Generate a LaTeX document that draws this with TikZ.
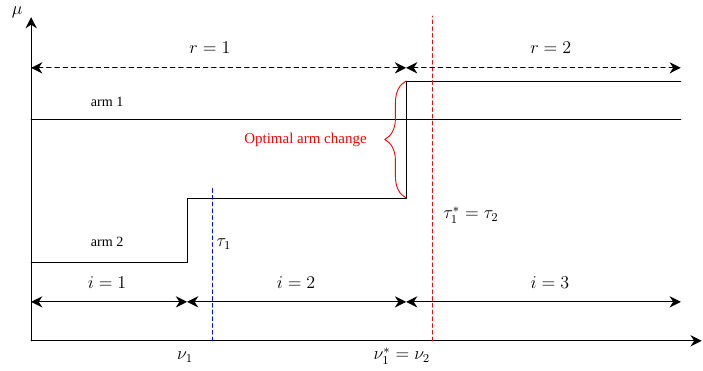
\documentclass[tikz,border=0pt]{standalone}
\usepackage{fontspec}
\setmainfont{Liberation Serif}
\usetikzlibrary{arrows.meta,decorations.pathreplacing}

\begin{document}
\begin{tikzpicture}[line cap=round,line join=round,
  axis/.style={line width=0.7pt,-{Stealth[length=7.5pt,width=7.5pt]}},
  arm/.style={line width=0.55pt},
  span/.style={line width=0.6pt,{Stealth[length=7.5pt,width=7.5pt]}-{Stealth[length=7.5pt,width=7.5pt]}},
  change/.style={line width=0.65pt,dash pattern=on 2.5pt off 2pt},
  lbl/.style={font=\large},
  armlbl/.style={font=\fontsize{9.4}{11}\selectfont}]
  \useasboundingbox (-0.73,-0.70) rectangle (15.75,7.99);
  \coordinate (O) at (0,0);
  \coordinate (Y) at (0,7.59);
  \coordinate (X) at (15.72,0);
  % arms
  \coordinate (A1s) at (0,5.20);
  \coordinate (A1e) at (15.23,5.20);
  \coordinate (A2a) at (0,1.83);
  \coordinate (A2b) at (3.655,1.83);
  \coordinate (A2c) at (3.655,3.35);
  \coordinate (A2d) at (8.79,3.35);
  \coordinate (A2e) at (8.79,6.09);
  \coordinate (A2f) at (15.23,6.09);
  % change points
  \coordinate (T1b) at (4.24,0);
  \coordinate (T1t) at (4.24,3.58);
  \coordinate (T2b) at (9.42,0);
  \coordinate (T2t) at (9.42,7.61);
  % spans
  \coordinate (R0) at (0,6.40);
  \coordinate (R1) at (8.79,6.40);
  \coordinate (R2) at (15.23,6.40);
  \coordinate (I0) at (0,0.914);
  \coordinate (I1) at (3.655,0.914);
  \coordinate (I2) at (8.79,0.914);
  \coordinate (I3) at (15.23,0.914);
  \draw[axis] (O) -- (Y);
  \draw[axis] (O) -- (X);
  \draw[arm] (A1s) -- (A1e);
  \draw[arm] (A2a) -- (A2b) -- (A2c) -- (A2d) -- (A2e) -- (A2f);
  \draw[change,blue] (T1b) -- (T1t);
  \draw[change,red] (T2b) -- (T2t);
  \draw[span,dash pattern=on 3pt off 2.5pt] (R0) -- (R1);
  \draw[span,dash pattern=on 3pt off 2.5pt] (R1) -- (R2);
  \draw[span] (I0) -- (I1);
  \draw[span] (I1) -- (I2);
  \draw[span] (I2) -- (I3);
  \draw[red,line width=0.6pt,decorate,decoration={brace,amplitude=0.5cm}]
    (A2d) -- (A2e);
  \node[lbl] (mu) at (-0.33,7.71) {$\mu$};
  \node[armlbl] (arm1) at (1.78,5.60) {arm 1};
  \node[armlbl] (arm2) at (1.78,2.32) {arm 2};
  \node[lbl] (r1) at (4.19,6.87) {$r=1$};
  \node[lbl] (r2) at (12.18,6.87) {$r=2$};
  \node[lbl] (i1) at (1.78,1.36) {$i=1$};
  \node[lbl] (i2) at (6.21,1.36) {$i=2$};
  \node[lbl] (i3) at (12.16,1.36) {$i=3$};
  \node[lbl] (tau1) at (4.52,2.27) {$\tau_1$};
  \node[lbl] (tau2) at (10.31,2.95) {$\tau_1^*=\tau_2$};
  \node[lbl] (nu1) at (3.61,-0.375) {$\nu_1$};
  \node[lbl] (nu2) at (8.69,-0.35) {$\nu_1^*=\nu_2$};
  \node[red,anchor=east] (opt) at (7.99,4.71) {Optimal arm change};
\end{tikzpicture}
\end{document}
